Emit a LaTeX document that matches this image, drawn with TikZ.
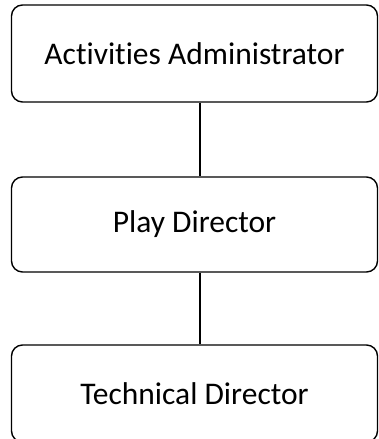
\documentclass[tikz,border=0pt]{standalone}
\usepackage{fontspec}
\setmainfont[Ligatures=CommonOff]{Carlito}
\begin{document}
\begin{tikzpicture}[x=1pt,y=1pt,
  box/.style={draw=black, line width=1.4pt, rounded corners=11pt, minimum width=366pt, inner sep=0pt, font=\fontsize{31.5}{37}\selectfont},
  link/.style={draw=black, line width=1.4pt}]
\useasboundingbox (0,0) rectangle (378,439);
\node[box, minimum height=97pt] (b1) at (194.5,385.5) {Activities Administrator};
\node[box, minimum height=95pt] (b2) at (194.5,214.5) {Play Director};
\node[box, minimum height=97pt] (b3) at (194.5,45.5) {Technical Director};
\draw[link] ([xshift=5.5pt]b1.south) -- ([xshift=5.5pt]b2.north);
\draw[link] ([xshift=5.5pt]b2.south) -- ([xshift=5.5pt]b3.north);
\end{tikzpicture}
\end{document}
